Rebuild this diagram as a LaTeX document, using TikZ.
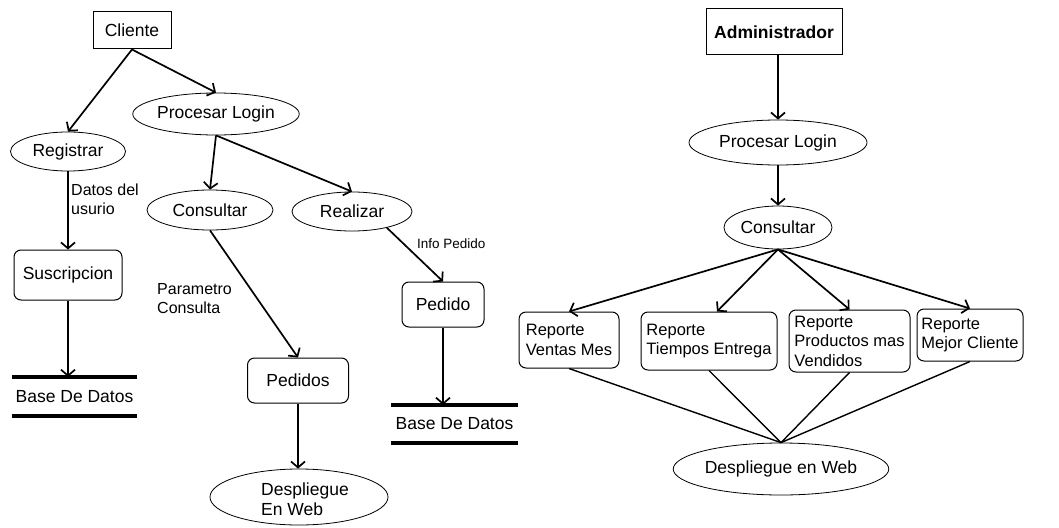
\documentclass[tikz,border=0pt]{standalone}
\usepackage{fontspec}
\setmainfont{Liberation Sans}
\usetikzlibrary{shapes.geometric,arrows.meta}
\begin{document}
\begin{tikzpicture}[x=1pt,y=-1pt,
  font=\fontsize{17.5}{20.5}\selectfont,
  oval/.style={draw,ellipse,line width=0.8pt,inner sep=0pt},
  rbox/.style={draw,rounded corners=7pt,line width=1pt,inner sep=0pt,align=left},
  sqbox/.style={draw,line width=1pt,inner sep=0pt},
  store/.style={inner sep=0pt},
  dbline/.style={line width=3.5pt},
  flow/.style={line width=1.7pt,-{Straight Barb[length=6pt,width=14pt]}},
  link/.style={line width=1.4pt},
  note/.style={font=\fontsize{16}{19}\selectfont,align=left,inner sep=0pt},
  report/.style={rbox,font=\fontsize{16.5}{19.5}\selectfont},
]
\useasboundingbox (0,0) rectangle (1059,527);
\fill[white] (0,0) rectangle (1059,527);

% ---------- Cliente ----------
\node[sqbox,minimum width=78,minimum height=37] (cli) at (132,30.5) {Cliente};
\node[oval,minimum width=160,minimum height=42] (plL) at (216,114) {Procesar Login};
\node[oval,minimum width=115,minimum height=39] (reg) at (68,151.5) {Registrar};
\node[oval,minimum width=126,minimum height=40] (conL) at (210,210) {Consultar};
\node[oval,minimum width=120,minimum height=39] (rea) at (352,211.5) {Realizar};
\node[rbox,minimum width=108,minimum height=50] (sus) at (68,275) {Suscripcion};
\node[store,minimum width=125,minimum height=39] (bddL) at (74.5,396.5) {Base De Datos};
\node[rbox,minimum width=101,minimum height=45] (peds) at (298,380.5) {Pedidos};
\node[oval,minimum width=178,minimum height=56] (webL) at (299,497) {};
\node[note,font=\fontsize{17.5}{20.5}\selectfont,anchor=west] (webLt) at (261,499) {Despliegue\\En Web};
\node[rbox,minimum width=82,minimum height=45] (ped) at (443,304.5) {Pedido};
\node[store,minimum width=127,minimum height=38] (bddR) at (454.5,424) {Base De Datos};

\foreach \s in {bddL,bddR}{
  \draw[dbline] (\s.north west) -- (\s.north east);
  \draw[dbline] (\s.south west) -- (\s.south east);
}

\node[note,anchor=north west] (lblDatos) at (71,184) {Datos del\\usurio};
\node[note,anchor=north west] (lblParam) at (157,283) {Parametro\\Consulta};
\node[note,font=\fontsize{13.5}{16}\selectfont,anchor=west] (lblInfo) at (417,244) {Info Pedido};

\draw[flow] (cli.south) -- (reg.north);
\draw[flow] (cli.south) -- (plL.north);
\draw[flow] (plL.south) -- (conL.north);
\draw[flow] (plL.south) -- (rea.north);
\draw[flow] (reg.south) -- (sus.north);
\draw[flow] (sus.south) -- (sus.south |- bddL.north);
\draw[flow] (conL.south) -- (peds.north);
\draw[flow] (rea.-25) -- (ped.north);
\draw[flow] (ped.south) -- (ped.south |- bddR.north);
\draw[flow] (peds.south) -- (peds.south |- webL.north);

% ---------- Administrador ----------
\node[sqbox,font=\fontsize{17.5}{20.5}\selectfont\bfseries,minimum width=136,minimum height=46] (adm) at (774,32) {Administrador};
\node[oval,minimum width=178,minimum height=45] (plR) at (778,142.5) {Procesar Login};
\node[oval,minimum width=108,minimum height=43] (conR) at (778,227.5) {Consultar};
\node[report,minimum width=100,minimum height=56] (rvm) at (569,340) {Reporte\\Ventas Mes};
\node[report,minimum width=136,minimum height=58] (rte) at (709,341) {Reporte\\Tiempos Entrega};
\node[report,minimum width=121,minimum height=62] (rpv) at (849.5,341) {Reporte\\Productos mas\\Vendidos};
\node[report,minimum width=106,minimum height=52] (rmc) at (970,335) {Reporte\\Mejor Cliente};
\node[oval,minimum width=184,minimum height=52] (webR) at (781,469) {Despliegue en Web};

\draw[flow] (plR.north |- adm.south) -- (plR.north);
\draw[flow] (plR.south) -- (conR.north);
\draw[flow] (conR.south) -- (rvm.north);
\draw[flow] (conR.south) -- ([xshift=8pt]rte.north);
\draw[flow] (conR.south) -- (rpv.north);
\draw[flow] (conR.south) -- (rmc.north);

\foreach \r in {rvm,rte,rpv,rmc}
  \draw[link] (\r.south) -- (webR.north);
\end{tikzpicture}
\end{document}
